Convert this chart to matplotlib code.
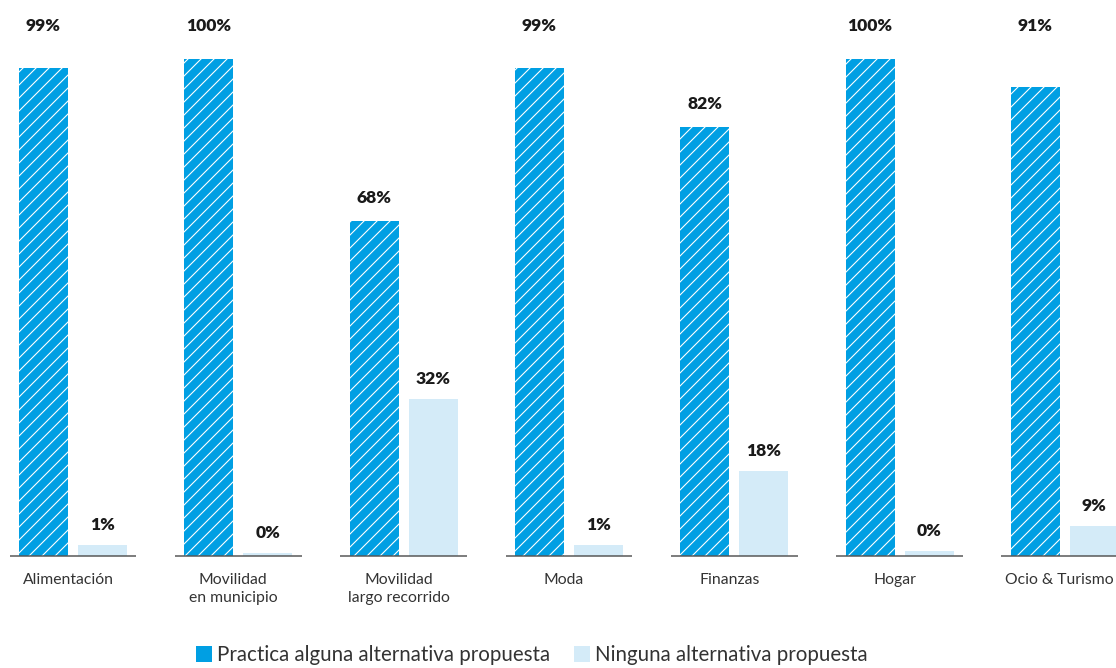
import numpy as np
import matplotlib
matplotlib.use('Agg')
import matplotlib.pyplot as plt
from matplotlib.patches import Patch

# Data
categories = ['Alimentación', 'Movilidad\nen municipio', 'Movilidad\nlargo recorrido',
              'Moda', 'Finanzas', 'Hogar', 'Ocio & Turismo']
# bar heights as drawn in the picture
practica = [98.2, 100, 67.4, 98.2, 86.3, 100, 94.4]
ninguna = [2.2, 0.6, 31.6, 2.2, 17.1, 1.0, 6.0]
# printed labels
practica_labels = ['99%', '100%', '68%', '99%', '82%', '100%', '91%']
ninguna_labels = ['1%', '0%', '32%', '1%', '18%', '0%', '9%']

DPI = 78
W, H = 1116, 668


def px(v):
    # pixel size -> points
    return v * 72 / DPI


dark = '#009FE3'
light = '#D4EBF8'
plt.rcParams['font.family'] = ['Lato', 'DejaVu Sans']
plt.rcParams['hatch.linewidth'] = px(1.1)

fig = plt.figure(figsize=(W / DPI, H / DPI), dpi=DPI)
base_px = 556
ax = fig.add_axes([0, (H - base_px) / H, 1, 110 * 4.97 / H])

step = 165.3
x = np.arange(len(categories))
off = 29.5 / step
bw = 49 / step

ax.bar(x - off, practica, bw, color=dark, edgecolor='white', linewidth=0, hatch='//')
ax.bar(x + off, ninguna, bw, color=light, linewidth=0)

# separate baseline per group
for xi in x:
    ax.plot([xi - 0.383, xi + 0.383], [0, 0], color='#555555', lw=px(1.5),
            solid_capstyle='butt', clip_on=False)

# value labels
for xi, h, lab in zip(x, practica, practica_labels):
    y = 106.6 if h >= 90 else h + 4.6
    ax.text(xi - off, y, lab, ha='center', va='center', fontsize=px(17.5),
            fontweight='heavy', color='#1a1a1a')
for xi, h, lab in zip(x, ninguna, ninguna_labels):
    ax.text(xi + off, h + 4.0, lab, ha='center', va='center', fontsize=px(17.5),
            fontweight='heavy', color='#1a1a1a')

# category labels
for xi, cat in zip(x, categories):
    ax.text(xi - 5 / step, -3.4, cat, ha='center', va='top', fontsize=px(15.8),
            color='#333333', linespacing=1.4)

ax.set_xlim(-73 / step, (W - 73) / step)
ax.set_ylim(0, 110)
ax.axis('off')

handles = [Patch(facecolor=dark, edgecolor='none'),
           Patch(facecolor=light, edgecolor='none')]
fig.legend(handles, ['Practica alguna alternativa propuesta', 'Ninguna alternativa propuesta'],
           loc='center', bbox_to_anchor=(532 / W, 13 / H), ncol=2, frameon=False,
           fontsize=px(20.5), handlelength=0.78, handleheight=0.78, handletextpad=0.25,
           columnspacing=1.15, borderpad=0, borderaxespad=0, labelcolor='#333333')

fig.savefig('out.png', dpi=DPI)
